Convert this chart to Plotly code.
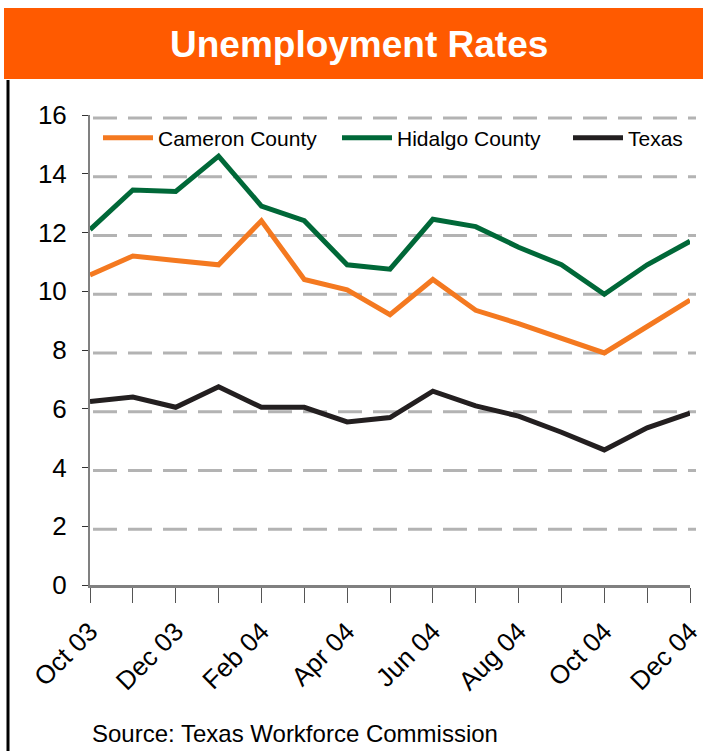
import plotly.graph_objects as go

months = ["Oct 03", "Nov 03", "Dec 03", "Jan 04", "Feb 04", "Mar 04", "Apr 04", "May 04",
          "Jun 04", "Jul 04", "Aug 04", "Sep 04", "Oct 04", "Nov 04", "Dec 04"]
tick_labels = [m if i % 2 == 0 else "" for i, m in enumerate(months)]
cameron = [10.55, 11.2, 11.05, 10.9, 12.4, 10.4, 10.05, 9.2, 10.4, 9.35, 8.9, 8.4, 7.9, 8.8, 9.7]
hidalgo = [12.1, 13.45, 13.4, 14.6, 12.9, 12.4, 10.9, 10.75, 12.45, 12.2, 11.5, 10.9, 9.9, 10.9, 11.7]
texas = [6.25, 6.4, 6.05, 6.75, 6.05, 6.05, 5.55, 5.7, 6.6, 6.1, 5.75, 5.2, 4.6, 5.35, 5.85]
y_ticks = [0, 2, 4, 6, 8, 10, 12, 14, 16]

W, H = 703, 751
L, R, T, B = 90, 13, 115, 166
pw, ph = W - L - R, H - T - B


def px_x(px):
    return (px - L) / pw


def px_y(py):
    return (H - B - py) / ph


x_idx = list(range(len(months)))

fig = go.Figure()
fig.add_trace(go.Scatter(x=x_idx, y=cameron, name="Cameron County", mode="lines",
                         line=dict(color="#F47920", width=5), legend="legend"))
fig.add_trace(go.Scatter(x=x_idx, y=hidalgo, name="Hidalgo County", mode="lines",
                         line=dict(color="#006838", width=5), legend="legend2"))
fig.add_trace(go.Scatter(x=x_idx, y=texas, name="Texas", mode="lines",
                         line=dict(color="#231F20", width=5), legend="legend3"))

leg_common = dict(orientation="h", xanchor="left", y=px_y(138), yanchor="middle",
                  font=dict(size=21), bgcolor="rgba(0,0,0,0)", itemwidth=50)

# dashed grid lines, drawn slightly below each tick as in the original
grid_shapes = [
    dict(type="line", xref="paper", yref="y", x0=px_x(93), x1=px_x(696),
         y0=v - 0.1, y1=v - 0.1, layer="below",
         line=dict(color="#B3B3B3", width=3, dash="24px,11px"))
    for v in y_ticks
]

fig.update_layout(
    width=W, height=H,
    margin=dict(l=L, r=R, t=T, b=B, autoexpand=False),
    paper_bgcolor="white", plot_bgcolor="white",
    font=dict(family="Liberation Sans, Arial, sans-serif", color="black"),
    showlegend=True,
    legend=dict(x=px_x(98), **leg_common),
    legend2=dict(x=px_x(337), **leg_common),
    legend3=dict(x=px_x(568), **leg_common),
    xaxis=dict(range=[0, len(months) - 1], tickmode="array", tickvals=x_idx, ticktext=tick_labels,
               tickangle=-45, ticks="outside", ticklen=15, tickwidth=1, tickcolor="#555555",
               tickfont=dict(size=26), ticklabelstandoff=3, ticklabeloverflow="allow",
               showline=True, linecolor="#808080", linewidth=3,
               showgrid=False, zeroline=False, automargin=False),
    yaxis=dict(range=[0, 16], tickmode="array", tickvals=y_ticks, ticks="outside", ticklen=6,
               tickcolor="#333333", tickwidth=1, tickfont=dict(size=26), ticklabelstandoff=10,
               showline=True, linecolor="#808080", linewidth=2,
               showgrid=False, zeroline=False, automargin=False),
    shapes=[
        dict(type="rect", xref="paper", yref="paper", x0=px_x(4), x1=px_x(703),
             y0=px_y(79), y1=px_y(8), fillcolor="#FF5A00", line=dict(width=0), layer="below"),
        dict(type="line", xref="paper", yref="paper", x0=px_x(8), x1=px_x(8),
             y0=px_y(80), y1=px_y(751), line=dict(color="black", width=3)),
    ] + grid_shapes,
    annotations=[
        dict(text="<b>Unemployment Rates</b>", xref="paper", yref="paper",
             x=px_x(359), y=px_y(44), xanchor="center", yanchor="middle", showarrow=False,
             font=dict(family="Liberation Sans Narrow, Arial Narrow, Liberation Sans, sans-serif",
                       size=37, color="white")),
        dict(text="Source: Texas Workforce Commission", xref="paper", yref="paper",
             x=0, y=px_y(733), xanchor="left", yanchor="middle", showarrow=False,
             font=dict(size=24, color="black")),
    ],
)

fig.write_html("out.html", config={"displayModeBar": False},
               post_script="document.body.style.margin='0px';document.body.style.overflow='hidden';")
